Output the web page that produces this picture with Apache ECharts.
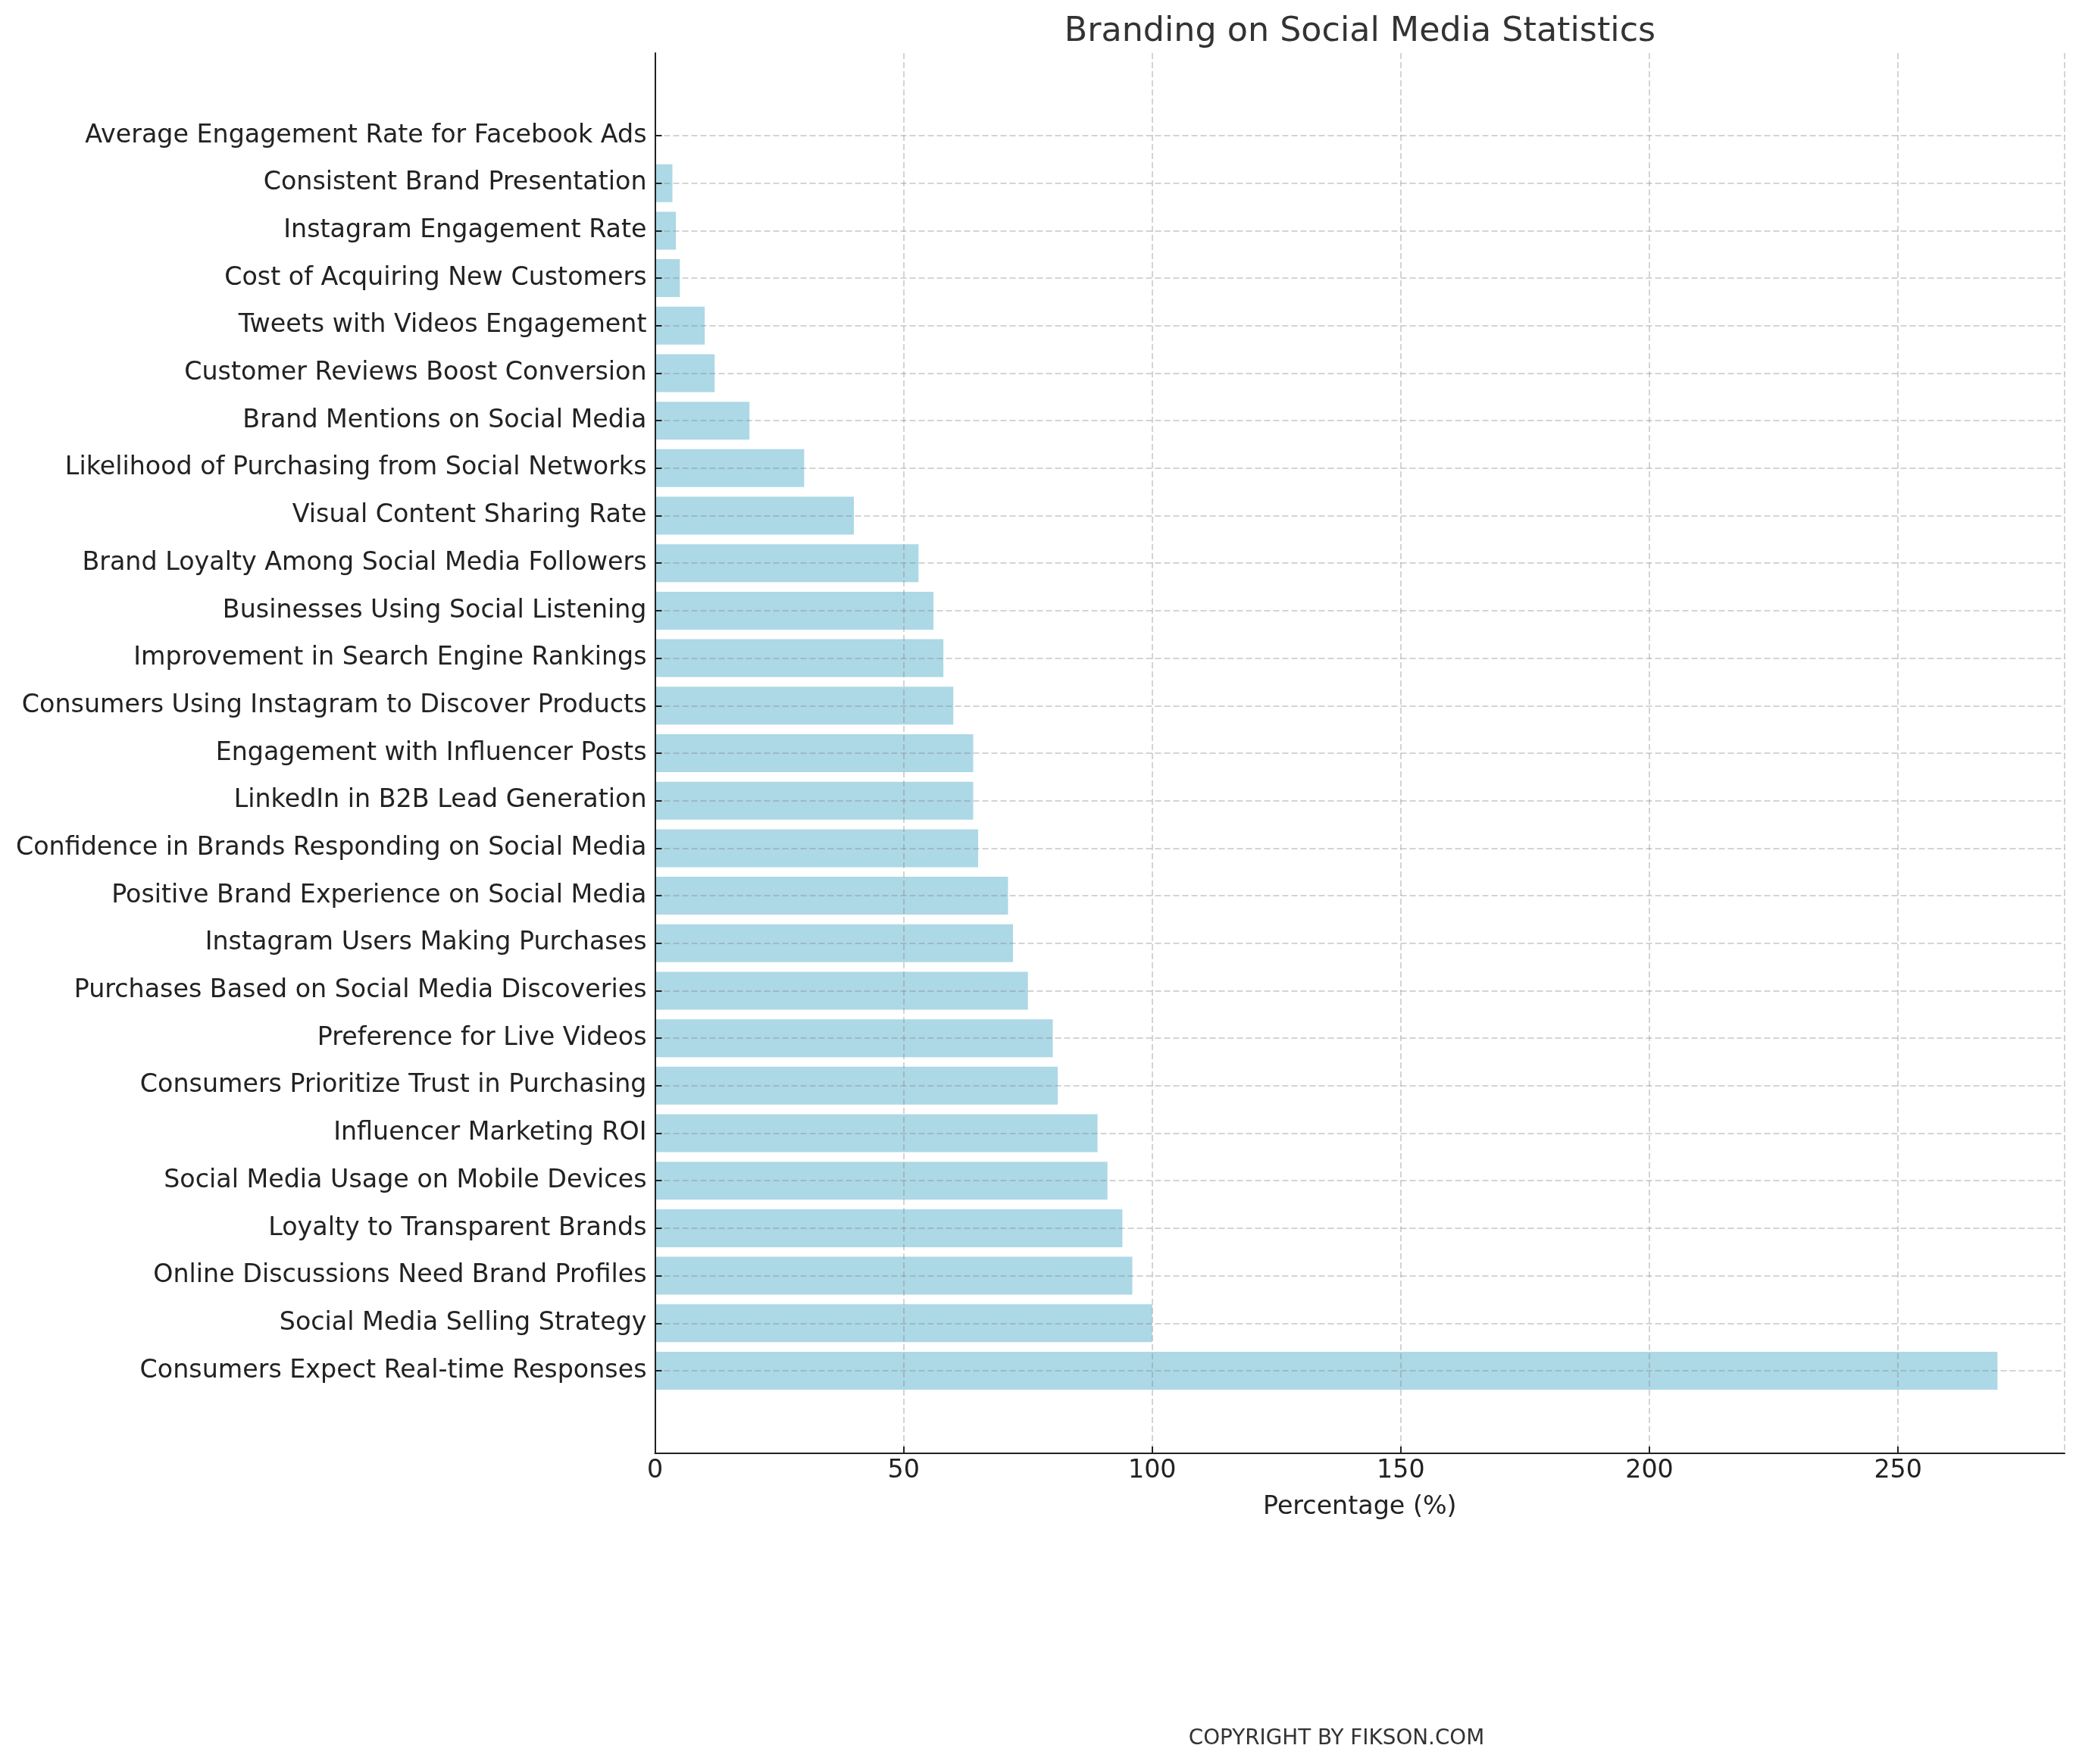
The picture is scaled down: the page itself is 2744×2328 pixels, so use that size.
<!DOCTYPE html>
<html>
<head>
<meta charset="utf-8">
<script src="https://cdn.jsdelivr.net/npm/echarts@6/dist/echarts.min.js"></script>
<style>
html,body{margin:0;padding:0;background:#fff;}
#chart{width:2744px;height:2328px;}
</style>
</head>
<body>
<div id="chart"></div>
<script>
// Categories listed top to bottom
const categories = [
  "Average Engagement Rate for Facebook Ads",
  "Consistent Brand Presentation",
  "Instagram Engagement Rate",
  "Cost of Acquiring New Customers",
  "Tweets with Videos Engagement",
  "Customer Reviews Boost Conversion",
  "Brand Mentions on Social Media",
  "Likelihood of Purchasing from Social Networks",
  "Visual Content Sharing Rate",
  "Brand Loyalty Among Social Media Followers",
  "Businesses Using Social Listening",
  "Improvement in Search Engine Rankings",
  "Consumers Using Instagram to Discover Products",
  "Engagement with Influencer Posts",
  "LinkedIn in B2B Lead Generation",
  "Confidence in Brands Responding on Social Media",
  "Positive Brand Experience on Social Media",
  "Instagram Users Making Purchases",
  "Purchases Based on Social Media Discoveries",
  "Preference for Live Videos",
  "Consumers Prioritize Trust in Purchasing",
  "Influencer Marketing ROI",
  "Social Media Usage on Mobile Devices",
  "Loyalty to Transparent Brands",
  "Online Discussions Need Brand Profiles",
  "Social Media Selling Strategy",
  "Consumers Expect Real-time Responses"
];
const percentages = [0.1, 3.5, 4.2, 5, 10, 12, 19, 30, 40, 53, 56, 58, 60, 64, 64, 65, 71, 72, 75, 80, 81, 89, 91, 94, 96, 100, 270];
const xTicks = [0, 50, 100, 150, 200, 250];

const FONT = "DejaVu Sans";
const chart = echarts.init(document.getElementById('chart'), null, {renderer: 'canvas'});
const gridColor = 'rgba(128,128,128,0.45)';
const option = {
  backgroundColor: '#ffffff',
  animation: false,
  textStyle: {fontFamily: FONT},
  grid: [
    {left: 864.5, right: 19, top: 70, bottom: 410},
    {left: 864.5, right: 19, top: 179, bottom: 519}
  ],
  xAxis: [
    {
      gridIndex: 0, type: 'value', min: 0, max: 283.5, interval: 50, z: 5,
      name: 'Percentage (%)', nameLocation: 'middle', nameGap: 55,
      nameTextStyle: {fontSize: 33.3, color: '#222', fontFamily: FONT},
      axisLine: {show: true, lineStyle: {color: '#222', width: 2}},
      axisTick: {show: true, inside: true, length: 9, lineStyle: {color: '#222', width: 2}},
      axisLabel: {fontSize: 33.3, color: '#222', margin: 7, fontFamily: FONT, showMaxLabel: false,
        formatter: v => xTicks.indexOf(v) >= 0 ? String(v) : ''},
      splitLine: {show: true, lineStyle: {color: gridColor, width: 1.5, type: [8, 4]}}
    },
    {
      gridIndex: 1, type: 'value', min: 0, max: 283.5, show: false
    }
  ],
  yAxis: [
    {
      gridIndex: 0, type: 'value', min: 0, max: 1, z: 5,
      axisLine: {show: true, lineStyle: {color: '#222', width: 2}},
      axisTick: {show: false}, axisLabel: {show: false}, splitLine: {show: false}
    },
    {
      gridIndex: 1, type: 'category', data: categories, inverse: true, boundaryGap: false, z: 5,
      axisLine: {show: false},
      axisTick: {show: true, inside: true, length: 9, alignWithLabel: true, lineStyle: {color: '#222', width: 2}},
      axisLabel: {fontSize: 33.3, color: '#222', margin: 11, fontFamily: FONT, interval: 0, padding: [4, 0, 0, 0]},
      splitLine: {show: true, interval: 0, lineStyle: {color: gridColor, width: 1.5, type: [8, 4]}}
    }
  ],
  series: [{
    type: 'bar',
    xAxisIndex: 1, yAxisIndex: 1,
    data: percentages,
    barWidth: 50,
    clip: false,
    z: 1,
    itemStyle: {color: '#ADD8E6'}
  }],
  graphic: [
    {type: 'text', z: 10, style: {text: 'Branding on Social Media Statistics', x: 1795, y: 42,
      textAlign: 'center', textVerticalAlign: 'middle', fontSize: 44.4, fontFamily: FONT, fill: '#333'}},
    {type: 'text', z: 10, style: {text: 'COPYRIGHT BY FIKSON.COM', x: 1764, y: 2295,
      textAlign: 'center', textVerticalAlign: 'middle', fontSize: 27.8, fontFamily: FONT, fill: '#333'}}
  ]
};
chart.setOption(option);
</script>
</body>
</html>
